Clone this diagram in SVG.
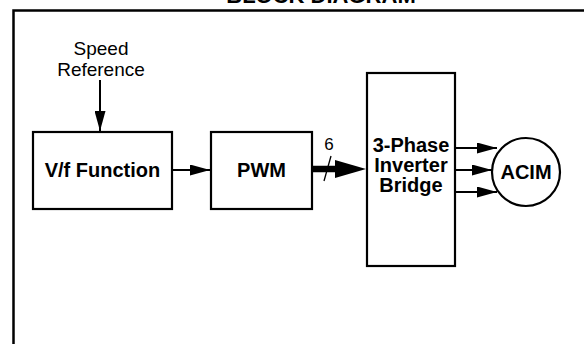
<svg xmlns="http://www.w3.org/2000/svg" width="584" height="344" viewBox="0 0 584 344">
<defs>
<style>
.box{fill:#fff;stroke:#000;stroke-width:2.2}
.lbl{font-family:"Liberation Sans",Arial,sans-serif;font-weight:bold;font-size:20px;text-anchor:middle;fill:#000}
.txt{font-family:"Liberation Sans",Arial,sans-serif;font-size:19px;text-anchor:middle;fill:#000}
.wire{stroke:#000;stroke-width:2;fill:none}
</style>
<marker id="ah" viewBox="0 0 20 11" refX="20" refY="5.5" markerWidth="20" markerHeight="11" markerUnits="userSpaceOnUse" orient="auto">
<path d="M0,0 L20,5.5 L0,11 Z" fill="#000"/>
</marker>
</defs>
<rect width="584" height="344" fill="#fff"/>
<text x="321" y="3" font-family="Liberation Sans,Arial,sans-serif" font-weight="bold" font-size="22" text-anchor="middle">BLOCK DIAGRAM</text>
<rect x="13.5" y="10.5" width="600" height="360" fill="none" stroke="#000" stroke-width="2.5"/>
<g id="speed-ref">
<text class="txt" x="101" y="55">Speed</text>
<text class="txt" x="101" y="76">Reference</text>
</g>
<g id="vf">
<rect class="box" x="33" y="132" width="139" height="77"/>
<text class="lbl" x="102.5" y="177">V/f Function</text>
</g>
<g id="pwm">
<rect class="box" x="211" y="132" width="101" height="77"/>
<text class="lbl" x="261.5" y="177">PWM</text>
</g>
<g id="inverter">
<rect class="box" x="367" y="73" width="88" height="193"/>
<text class="lbl" x="411" y="152">3-Phase</text>
<text class="lbl" x="411" y="172">Inverter</text>
<text class="lbl" x="411" y="192">Bridge</text>
</g>
<g id="acim">
<circle class="box" cx="526" cy="172" r="34"/>
<text class="lbl" x="526" y="179">ACIM</text>
</g>
<g id="connectors">
<line class="wire" x1="100" y1="80" x2="100" y2="131" marker-end="url(#ah)"/>
<line class="wire" x1="172" y1="170" x2="210" y2="170" marker-end="url(#ah)"/>
<line x1="312" y1="169" x2="340" y2="169" stroke="#000" stroke-width="6.5"/>
<polygon points="335,160 366,169 335,178" fill="#000"/>
<line x1="331" y1="156" x2="324" y2="181" stroke="#000" stroke-width="1.3"/>
<text class="txt" x="329" y="150" style="font-size:17px">6</text>
<line class="wire" x1="455" y1="148" x2="497" y2="148" marker-end="url(#ah)"/>
<line class="wire" x1="455" y1="170" x2="492" y2="170" marker-end="url(#ah)"/>
<line class="wire" x1="455" y1="192" x2="497" y2="192" marker-end="url(#ah)"/>
</g>
</svg>
